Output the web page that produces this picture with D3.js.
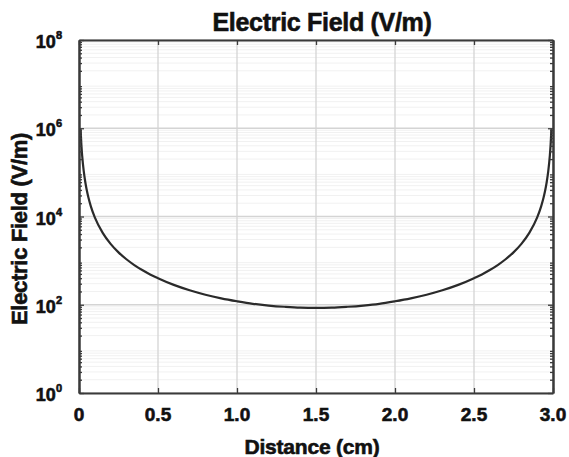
<!DOCTYPE html>
<html><head><meta charset="utf-8">
<script src="https://cdn.jsdelivr.net/npm/d3@7"></script>
<style>
html,body{margin:0;padding:0;background:#fff;}
svg{display:block;font-family:"Liberation Sans",Arial,sans-serif;}
</style></head>
<body>
<svg id="c" width="569" height="457"></svg>
<script>
// Data
const distance = [0.01,0.015,0.02,0.03,0.04,0.05,0.06,0.075,0.1,0.15,0.2,0.25,0.3,0.35,0.4,0.45,0.5,0.6,0.7,0.8,0.9,1.0,1.1,1.2,1.3,1.4,1.5,
  1.6,1.7,1.8,1.9,2.0,2.1,2.2,2.3,2.4,2.5,2.55,2.6,2.65,2.7,2.75,2.8,2.85,2.9,2.925,2.94,2.95,2.96,2.97,2.98,2.985,2.99];
const field = [956000,425000,239000,106200,59750,38240,26550,17000,9570,4260,2400,1540,1075,794,612,487,400,282,213,169,140,120,105,96,90,86,85,
  86,90,96,105,120,140,169,213,282,400,487,612,794,1075,1540,2400,4260,9570,17000,26550,38240,59750,106200,239000,425000,956000];
const xTicks = [0,0.5,1.0,1.5,2.0,2.5,3.0];
const xTickLabels = ["0","0.5","1.0","1.5","2.0","2.5","3.0"];
const yTickExps = [0,2,4,6,8];
const titleText = "Electric Field (V/m)";
const xLabelText = "Distance (cm)";
const yLabelText = "Electric Field (V/m)";

const svg = d3.select("#c");
const L=79,R=553,T=40,B=393;
const x = d3.scaleLinear().domain([0,3]).range([L,R]);
const y = d3.scaleLog().domain([1,1e8]).range([B,T]);

// minor y grid
const minor=[];
for(let e=0;e<8;e++){for(let m=2;m<=9;m++){minor.push(m*Math.pow(10,e));}}
svg.append("g").selectAll("line").data(minor).join("line")
 .attr("x1",L).attr("x2",R).attr("y1",d=>y(d)).attr("y2",d=>y(d))
 .attr("stroke","#f1f1f1").attr("stroke-width",1);
// major grid
svg.append("g").selectAll("line").data(yTickExps).join("line")
 .attr("x1",L).attr("x2",R).attr("y1",d=>y(Math.pow(10,d))).attr("y2",d=>y(Math.pow(10,d)))
 .attr("stroke","#d4d4d4").attr("stroke-width",1.3);
svg.append("g").selectAll("line").data(xTicks).join("line")
 .attr("y1",T).attr("y2",B).attr("x1",d=>x(d)).attr("x2",d=>x(d))
 .attr("stroke","#d4d4d4").attr("stroke-width",1.3);

// curve
svg.append("path").datum(distance.map((d,i)=>[d,field[i]]))
 .attr("fill","none").attr("stroke","#2a2a2a").attr("stroke-width",2.2)
 .attr("d",d3.line().x(d=>x(d[0])).y(d=>y(d[1])).curve(d3.curveMonotoneX));

// axes with inward ticks
const xb = d3.axisBottom(x).tickValues(xTicks).tickSizeInner(-5).tickSizeOuter(0).tickFormat("");
const xt = d3.axisTop(x).tickValues(xTicks).tickSizeInner(-5).tickSizeOuter(0).tickFormat("");
const yl = d3.axisLeft(y).tickValues(yTickExps.map(e=>Math.pow(10,e))).tickSizeInner(-5).tickSizeOuter(0).tickFormat("");
const yr = d3.axisRight(y).tickValues(yTickExps.map(e=>Math.pow(10,e))).tickSizeInner(-5).tickSizeOuter(0).tickFormat("");
const ylm = d3.axisLeft(y).tickValues(minor).tickSizeInner(-3).tickSizeOuter(0).tickFormat("");
const yrm = d3.axisRight(y).tickValues(minor).tickSizeInner(-3).tickSizeOuter(0).tickFormat("");
[[xb,`translate(0,${B})`],[xt,`translate(0,${T})`],[yl,`translate(${L},0)`],[yr,`translate(${R},0)`],[ylm,`translate(${L},0)`],[yrm,`translate(${R},0)`]].forEach(([a,t])=>{
  const g=svg.append("g").attr("transform",t).call(a);
  g.selectAll("path").attr("stroke","#3a3a3a").attr("stroke-width",2);
  g.selectAll("line").attr("stroke","#3a3a3a").attr("stroke-width",1.3);
});

const ink = sel => sel.attr("font-weight","bold").attr("fill","#111").attr("stroke","#111").attr("stroke-width",0.6);

// x tick labels
ink(svg.append("g").selectAll("text").data(xTicks).join("text")
 .attr("x",d=>x(d)).attr("y",421).attr("text-anchor","middle")
 .attr("font-size",19))
 .text((d,i)=>xTickLabels[i]);
// y tick labels
const yt = ink(svg.append("g").selectAll("text").data(yTickExps).join("text")
 .attr("x",62).attr("y",d=>y(Math.pow(10,d))+8).attr("text-anchor","end")
 .attr("font-size",18));
yt.append("tspan").text("10");
yt.append("tspan").attr("dy",-9).attr("font-size",11).text(d=>d);

// title & labels
ink(svg.append("text").attr("x",(L+R)/2+6).attr("y",31).attr("text-anchor","middle")
 .attr("font-size",25).attr("letter-spacing",-0.3)).text(titleText);
ink(svg.append("text").attr("x",(L+R)/2-4).attr("y",454).attr("text-anchor","middle")
 .attr("font-size",21).attr("letter-spacing",-0.2)).text(xLabelText);
ink(svg.append("text").attr("transform",`translate(27,${229}) rotate(-90)`).attr("text-anchor","middle")
 .attr("font-size",22).attr("letter-spacing",-0.3)).text(yLabelText);
</script>
</body></html>
